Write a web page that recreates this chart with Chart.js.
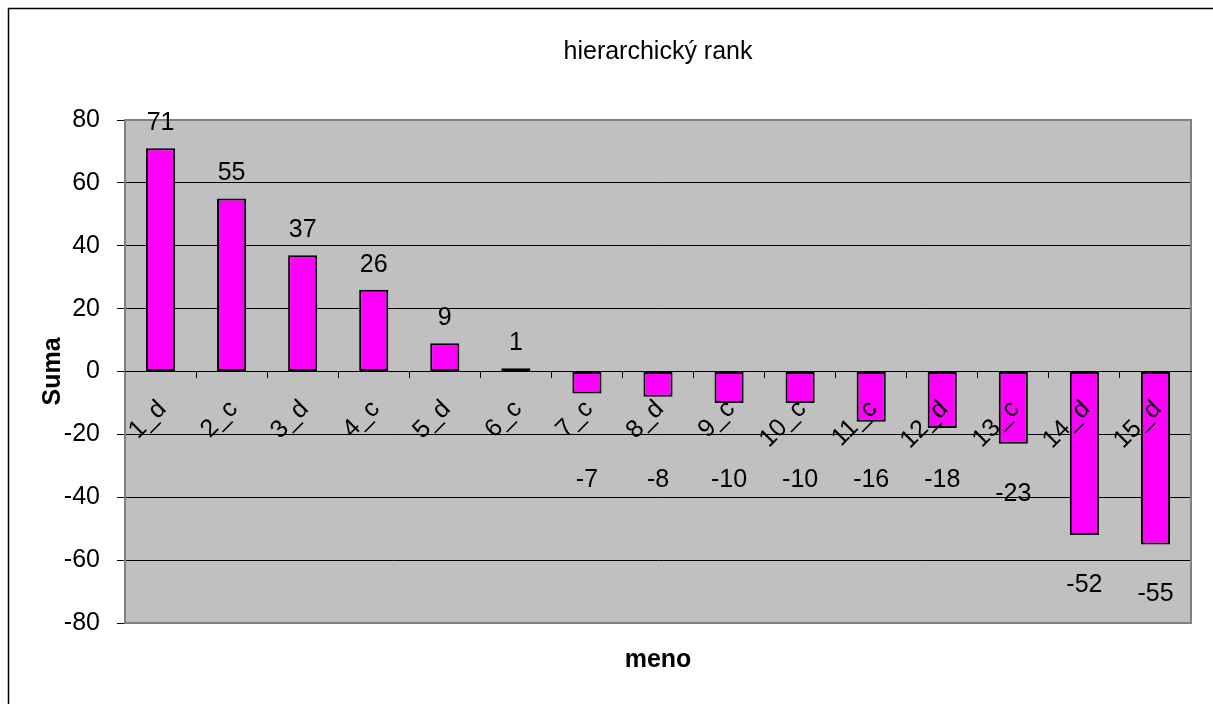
<!DOCTYPE html>
<html>
<head>
<meta charset="utf-8">
<script src="https://cdn.jsdelivr.net/npm/chart.js"></script>
<style>
	html, body { margin: 0; padding: 0; background: #fff; overflow: hidden; }
	#wrap { position: relative; width: 1213px; height: 704px; }
</style>
</head>
<body>
<div id="wrap"><canvas id="rank_chart"></canvas></div>
<script>
// data
const names = ['1_d', '2_c', '3_d', '4_c', '5_d', '6_c', '7_c', '8_d', '9_c', '10_c', '11_c', '12_d', '13_c', '14_d', '15_d'];
const sums = [71, 55, 37, 26, 9, 1, -7, -8, -10, -10, -16, -18, -23, -52, -55];
const yTicks = [-80, -60, -40, -20, 0, 20, 40, 60, 80];

const fontFamily = '"Liberation Sans", Arial, sans-serif';
const fontSize = 25;
const barColour = '#ff00ff';
const plotColour = '#c0c0c0';

// grey plot area, its frame and the outer chart border
const plotBackground = {
	id: 'plotBackground',
	beforeDraw(chart) {
		const { ctx, chartArea: a } = chart;
		ctx.save();
		ctx.fillStyle = plotColour;
		ctx.fillRect(a.left, a.top, a.right - a.left, a.bottom - a.top);
		ctx.restore();
	},
	beforeDatasetsDraw(chart) {
		const { ctx, chartArea: a } = chart;
		ctx.save();
		ctx.strokeStyle = '#808080';
		ctx.lineWidth = 2;
		ctx.strokeRect(a.left, a.top, a.right - a.left, a.bottom - a.top);
		ctx.restore();
	},
	afterDraw(chart) {
		const ctx = chart.ctx;
		ctx.save();
		ctx.strokeStyle = '#000';
		ctx.lineWidth = 1.5;
		ctx.strokeRect(8.5, 8.5, chart.width + 50, chart.height + 50);
		ctx.restore();
	}
};

// value labels at the bar ends
const valueLabels = {
	id: 'valueLabels',
	afterDatasetsDraw(chart) {
		const ctx = chart.ctx;
		const yScale = chart.scales.y;
		const meta = chart.getDatasetMeta(0);
		ctx.save();
		ctx.font = fontSize + 'px ' + fontFamily;
		ctx.fillStyle = '#000';
		ctx.textAlign = 'center';
		ctx.textBaseline = 'middle';
		meta.data.forEach((bar, i) => {
			const v = sums[i];
			let y;
			if (v >= 0) {
				y = bar.y - 25;
			} else {
				y = Math.max(bar.y + 50, yScale.getPixelForValue(-34.5));
			}
			ctx.fillText(String(v), bar.x, y);
		});
		ctx.restore();
	}
};

document.addEventListener('DOMContentLoaded', () => {
	Chart.defaults.font.family = fontFamily;
	Chart.defaults.font.size = fontSize;
	Chart.defaults.color = '#000';

	new Chart(document.getElementById('rank_chart'), {
		type: 'bar',
		data: {
			labels: names,
			datasets: [{
				label: 'Suma',
				data: sums,
				backgroundColor: barColour,
				borderColor: '#000',
				borderWidth: 2,
				borderSkipped: false,
				categoryPercentage: 1,
				barPercentage: 0.41
			}]
		},
		options: {
			responsive: true,
			maintainAspectRatio: false,
			devicePixelRatio: 1,
			animation: false,
			layout: { padding: { left: 8, right: 22, top: 0, bottom: 0 } },
			plugins: {
				legend: { display: false },
				tooltip: { enabled: false },
				title: {
					display: true,
					text: 'hierarchický rank',
					fullSize: false,
					color: '#000',
					font: { size: fontSize, weight: 'normal' },
					padding: { top: 37, bottom: 53 }
				}
			},
			scales: {
				x: {
					type: 'category',
					position: { y: 0 },
					offset: true,
					grid: {
						offset: true,
						drawOnChartArea: false,
						drawTicks: true,
						tickLength: 6,
						color: '#000'
					},
					border: { display: true, color: '#000', width: 1, z: 1 },
					ticks: {
						z: 1,
						autoSkip: false,
						minRotation: 45,
						maxRotation: 45,
						padding: 17,
						labelOffset: 2,
						color: '#000',
						font: { size: fontSize }
					},
					afterFit(scale) {
						scale.height = 0;
						scale.paddingLeft = 0;
						scale.paddingRight = 0;
					}
				},
				xTitle: {
					type: 'category',
					position: 'bottom',
					offset: true,
					grid: { display: false, drawTicks: false },
					border: { display: false },
					ticks: { display: false },
					title: {
						display: true,
						text: 'meno',
						color: '#000',
						font: { size: fontSize, weight: 'bold' },
						padding: { top: 22, bottom: 29 }
					}
				},
				y: {
					min: -80,
					max: 80,
					afterBuildTicks(scale) {
						scale.ticks = yTicks.map(v => ({ value: v }));
					},
					grid: {
						color: '#000',
						lineWidth: 1,
						drawTicks: true,
						tickLength: 8
					},
					border: { display: true, color: '#808080', width: 2 },
					ticks: {
						padding: 17,
						color: '#000',
						font: { size: fontSize }
					},
					title: {
						display: true,
						text: 'Suma',
						color: '#000',
						font: { size: fontSize, weight: 'bold' },
						padding: { top: 30, bottom: 0 }
					},
					afterFit(scale) {
						scale.width = 117;
					}
				}
			}
		},
		plugins: [plotBackground, valueLabels]
	});
});
</script>
</body>
</html>
